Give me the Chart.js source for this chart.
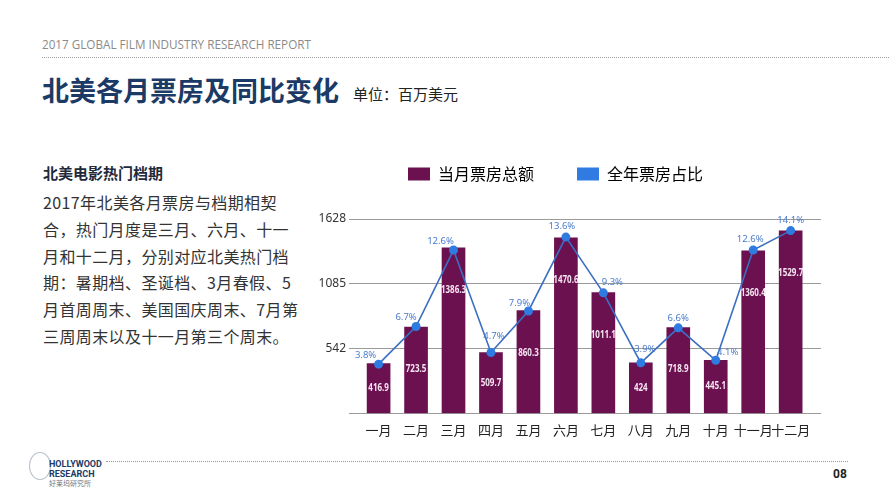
<!DOCTYPE html>
<html>
<head>
<meta charset="utf-8">
<script src="https://cdn.jsdelivr.net/npm/chart.js@4.4.0/dist/chart.umd.min.js"></script>
<style>
  html, body { margin: 0; padding: 0; background: #fff; }
  body { width: 889px; height: 500px; position: relative; overflow: hidden;
         font-family: "Noto Sans CJK SC", "Noto Sans", sans-serif; }
  .report { position: absolute; left: 42px; top: 36px; font-family: "Open Sans", "Noto Sans", sans-serif;
            font-size: 11.7px; color: #8a8a8a; }
  .dots { position: absolute; height: 0; border-top: 1px dotted #9a9a9a; }
  .title { position: absolute; left: 42px; top: 70px; font-size: 27px; font-weight: 700; color: #1b3a66;
           line-height: 40px; }
  .unit { position: absolute; left: 353px; top: 84px; font-size: 15px; color: #222; line-height: 20px; }
  .sub { position: absolute; left: 43px; top: 161px; font-size: 15px; font-weight: 700; color: #1e2a3c; line-height: 24px; }
  .body { position: absolute; left: 43px; top: 189px; font-size: 16px; color: #333; line-height: 26.8px;
          letter-spacing: 0.4px; white-space: nowrap; }
  #wrap { position: absolute; left: 247px; top: 120px; width: 610px; height: 330px; }
  .logo { position: absolute; left: 29px; top: 452px; width: 20px; height: 26px; border: 1px solid #b8c0cc;
          border-radius: 50%; }
  .logo1 { position: absolute; left: 49px; top: 459px; font-family: "Roboto", "Noto Sans", sans-serif;
           font-size: 9px; font-weight: 700; color: #1b3a66; line-height: 10px; }
  .logo2 { position: absolute; left: 49px; top: 479px; font-size: 7px; color: #777; line-height: 9px; }
  .page { position: absolute; left: 833px; top: 467px; font-family: "Roboto", sans-serif; font-size: 12px;
          font-weight: 700; color: #222; }
</style>
</head>
<body>
<div class="report">2017 GLOBAL FILM INDUSTRY RESEARCH REPORT</div>
<div class="dots" style="left:42px; top:57px; width:847px;"></div>
<div class="title">北美各月票房及同比变化</div>
<div class="unit">单位：百万美元</div>
<div class="sub">北美电影热门档期</div>
<div class="body">2017年北美各月票房与档期相契<br>合，热门月度是三月、六月、十一<br>月和十二月，分别对应北美热门档<br>期：暑期档、圣诞档、3月春假、5<br>月首周周末、美国国庆周末、7月第<br>三周周末以及十一月第三个周末。</div>
<div id="wrap"><canvas id="chart" width="610" height="330"></canvas></div>
<div class="logo"></div>
<div class="logo1">HOLLYWOOD<br>RESEARCH</div>
<div class="logo2">好莱坞研究所</div>
<div class="dots" style="left:106px; top:461px; width:742px;"></div>
<div class="page">08</div>
<script>
const months = ["一月", "二月", "三月", "四月", "五月", "六月", "七月", "八月", "九月", "十月", "十一月", "十二月"];
const boxOffice = [416.9, 723.5, 1386.3, 509.7, 860.3, 1470.6, 1011.1, 424, 718.9, 445.1, 1360.4, 1529.7];
const yearShare = [3.8, 6.7, 12.6, 4.7, 7.9, 13.6, 9.3, 3.9, 6.6, 4.1, 12.6, 14.1];
const yTicks = [0, 542, 1085, 1628];
const seriesNames = ["当月票房总额", "全年票房占比"];

const purple = "#6c1150";
const blue = "#3b6fc2";
const dotBlue = "#2f7be2";

// where each % label sits relative to its point (px)
const pctNudge = [[-13, -9], [-10, -9], [-13, -9], [3, -16], [-9, -8], [-4, -11],
                  [9, -11], [4, -14], [0, -10], [12, -8], [-3, -11], [0, -10]];

// share axis top matches box office axis top, so points sit on bar tops
const total = boxOffice.reduce((a, b) => a + b, 0);
const shareMax = yTicks[yTicks.length - 1] / total * 100;

/* extra room under the legend */
const legendGap = {
  id: "legendGap",
  beforeInit(chart) {
    const fit = chart.legend.fit;
    chart.legend.fit = function () {
      fit.bind(chart.legend)();
      this.height += 27;
    };
  }
};

const valueLabels = {
  id: "valueLabels",
  afterDatasetsDraw(chart) {
    const ctx = chart.ctx;
    ctx.save();
    ctx.textAlign = "center";
    ctx.textBaseline = "middle";

    // narrow bold numbers inside the bars
    const bars = chart.getDatasetMeta(0).data;
    ctx.font = "bold 10px 'Noto Sans', sans-serif";
    ctx.fillStyle = "#f6e6f2";
    bars.forEach((bar, i) => {
      const h = bar.base - bar.y;
      ctx.save();
      ctx.translate(bar.x, bar.y + Math.min(h / 2, 42));
      ctx.scale(0.8, 1);
      ctx.fillText(boxOffice[i], 0, 0);
      ctx.restore();
    });

    const pts = chart.getDatasetMeta(1).data;
    ctx.font = "9.5px 'Noto Sans', 'Noto Sans CJK SC', sans-serif";
    ctx.fillStyle = "#4a7ccc";
    pts.forEach((p, i) => {
      ctx.fillText(yearShare[i] + "%", p.x + pctNudge[i][0], p.y + pctNudge[i][1]);
    });
    ctx.restore();
  }
};

new Chart(document.getElementById("chart"), {
  data: {
    datasets: [
      {
        type: "bar",
        label: seriesNames[0],
        order: 1,
        yAxisID: "y",
        backgroundColor: purple,
        barThickness: 23,
        data: boxOffice.map((v, i) => ({ x: i, y: v })),
      },
      {
        type: "line",
        label: seriesNames[1],
        order: 0,
        yAxisID: "share",
        borderColor: blue,
        backgroundColor: dotBlue,
        borderWidth: 1.6,
        pointRadius: 4.5,
        pointBorderWidth: 0,
        pointBackgroundColor: dotBlue,
        data: yearShare.map((v, i) => ({ x: i, y: v })),
      },
    ],
  },
  options: {
    responsive: false,
    animation: false,
    layout: {
      padding: { left: 43, right: 36, top: 3, bottom: 11 },
    },
    scales: {
      x: {
        type: "linear",
        offset: false,
        min: -0.79,
        max: 11.81,
        grid: { display: false },
        border: { display: false },
        afterBuildTicks: (scale) => {
          scale.ticks = months.map((m, i) => ({ value: i }));
        },
        ticks: {
          autoSkip: false,
          maxRotation: 0,
          padding: 1,
          color: "#222",
          font: { size: 13, family: "'Noto Sans CJK SC', sans-serif" },
          callback: (v) => months[v],
        },
      },
      y: {
        min: 0,
        max: yTicks[yTicks.length - 1],
        afterBuildTicks: (scale) => {
          scale.ticks = yTicks.map((v) => ({ value: v }));
        },
        afterFit: (scale) => {
          scale.width = 59;
        },
        grid: { color: "#9a9a9a", lineWidth: 1, drawTicks: false },
        border: { display: false },
        ticks: {
          padding: 3,
          color: "#333",
          font: { size: 12, family: "'Noto Sans', sans-serif" },
          callback: (v) => (v === 0 ? "" : v),
        },
      },
      share: {
        display: false,
        min: 0,
        max: shareMax,
      },
    },
    plugins: {
      legend: {
        position: "top",
        labels: {
          boxWidth: 22,
          boxHeight: 13,
          padding: 43,
          color: "#333",
          font: { size: 16, family: "'Noto Sans CJK SC', sans-serif" },
          generateLabels: (chart) => [
            { text: seriesNames[0], fillStyle: purple, strokeStyle: purple, lineWidth: 0, datasetIndex: 0 },
            { text: seriesNames[1], fillStyle: dotBlue, strokeStyle: dotBlue, lineWidth: 0, datasetIndex: 1 },
          ],
        },
      },
      title: { display: false },
      tooltip: { enabled: false },
    },
  },
  plugins: [legendGap, valueLabels],
});
</script>
</body>
</html>
